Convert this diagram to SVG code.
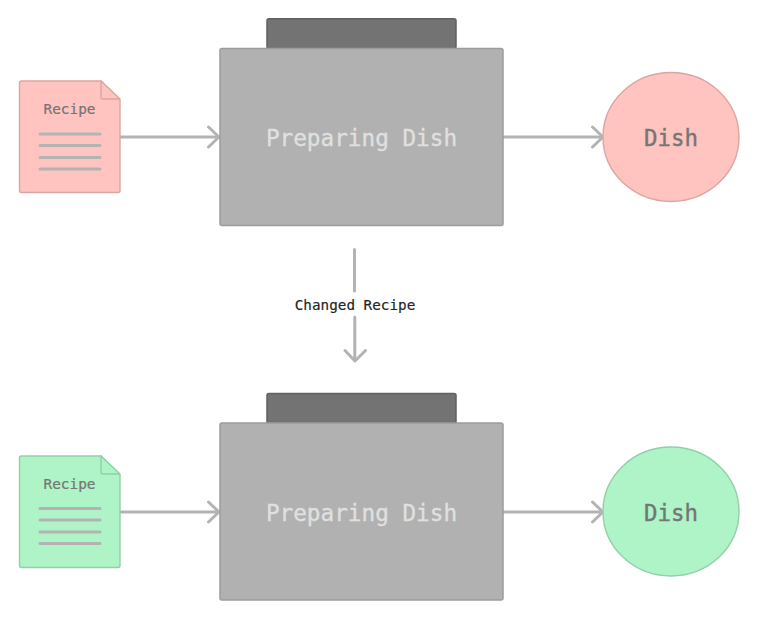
<svg xmlns="http://www.w3.org/2000/svg" width="759" height="621" viewBox="0 0 759 621">
<defs>
<marker id="arrow" markerUnits="userSpaceOnUse" markerWidth="20" markerHeight="26" refX="15" refY="13" orient="auto" overflow="visible">
<path d="M4.500 3 L15 13 L4.500 23" fill="none" stroke="#b3b3b3" stroke-width="3" stroke-linecap="round" stroke-linejoin="round"/>
</marker>
</defs>
<style>
text{font-family:"DejaVu Sans Mono","Liberation Mono",monospace;text-anchor:middle}
.edge{fill:none;stroke:#b3b3b3;stroke-width:3}
.doc{stroke-width:1.4;stroke-linejoin:round}
.red{fill:#ffc4bf;stroke:#dba5a1}
.green{fill:#aef4c6;stroke:#92cfa8}
.ln{stroke:#b3b3b3;stroke-width:3;stroke-linecap:round}
.body{fill:#b1b1b1;stroke:#9c9c9c;stroke-width:1.5}
.lid{fill:#737373;stroke:#606060;stroke-width:1.5}
.ptitle{font-size:22.7px;fill:#e0e0e0;stroke:#e0e0e0;stroke-width:.3px}
.rtitle{font-size:14.4px;fill:#757575;stroke:#757575;stroke-width:.2px}
.dtitle{font-size:22.4px;fill:#757575;stroke:#757575;stroke-width:.4px}
</style>
<rect width="759" height="621" fill="#ffffff"/>
<g id="connectors">
<path class="edge" d="M120 137H219" marker-end="url(#arrow)"/>
<path class="edge" d="M503 137H603" marker-end="url(#arrow)"/>
<path class="edge" d="M120 512H219" marker-end="url(#arrow)"/>
<path class="edge" d="M503 512H603" marker-end="url(#arrow)"/>
<path class="edge" d="M354.500 249.500V291M354.800 317V360" stroke-linecap="round"/>
<path d="M345 350.500L355 361L365.500 350.500" fill="none" stroke="#b3b3b3" stroke-width="3" stroke-linecap="round" stroke-linejoin="round"/>
<text x="355" y="310" style="font-size:14.300px;fill:#222222;stroke:#222222;stroke-width:.15px">Changed Recipe</text>
</g>
<g id="recipe-top">
<path class="doc red" d="M21 81H101L120 100V190.500a2 2 0 0 1-2 2H21.500a2 2 0 0 1-2-2V83a2 2 0 0 1 2-2Z"/>
<path class="doc red" d="M101 81L120 99H103a2 2 0 0 1-2-2Z"/>
<text class="rtitle" x="69.500" y="114">Recipe</text>
<path class="ln" d="M40 134H100M40 145.500H100M40 157.500H100M40 169H100"/>
</g>
<g id="prep-top">
<rect class="lid" x="267" y="18.800" width="189" height="30" rx="2"/>
<rect class="body" x="220" y="48.500" width="283" height="177" rx="2"/>
<text class="ptitle" x="361.500" y="145.500">Preparing Dish</text>
</g>
<g id="dish-top">
<ellipse class="red" cx="671" cy="137" rx="68" ry="64.500" stroke-width="1.400"/>
<text class="dtitle" x="671" y="145.500">Dish</text>
</g>
<g id="recipe-bottom">
<path class="doc green" d="M21.500 456H101L120 475V565.500a2 2 0 0 1-2 2H21.500a2 2 0 0 1-2-2V458a2 2 0 0 1 2-2Z"/>
<path class="doc green" d="M101 456L120 474H103a2 2 0 0 1-2-2Z"/>
<text class="rtitle" x="69.500" y="489">Recipe</text>
<path class="ln" d="M40 508.500H100M40 520H100M40 532H100M40 543.500H100"/>
</g>
<g id="prep-bottom">
<rect class="lid" x="267" y="393.500" width="189" height="30" rx="2"/>
<rect class="body" x="220" y="423" width="283" height="177" rx="2"/>
<text class="ptitle" x="361.500" y="520.500">Preparing Dish</text>
</g>
<g id="dish-bottom">
<ellipse class="green" cx="671" cy="511.500" rx="68" ry="64.500" stroke-width="1.400"/>
<text class="dtitle" x="671" y="520.500">Dish</text>
</g>
</svg>
